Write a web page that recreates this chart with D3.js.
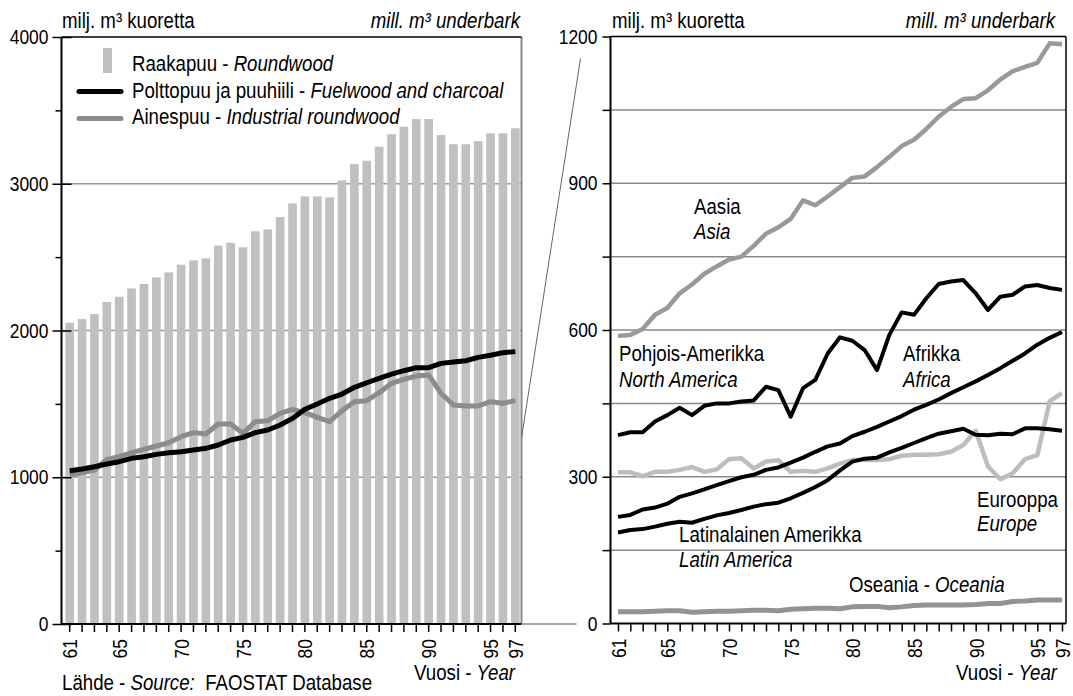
<!DOCTYPE html>
<html><head><meta charset="utf-8">
<script src="https://cdn.jsdelivr.net/npm/d3@7/dist/d3.min.js"></script>
<style>
html,body{margin:0;padding:0;background:#fff;}
svg{display:block;}
</style></head><body>
<svg id="chart" width="1073" height="696"></svg>
<script>
// ---------- DATA ----------
const years = [61,62,63,64,65,66,67,68,69,70,71,72,73,74,75,76,77,78,79,80,81,82,83,84,85,86,87,88,89,90,91,92,93,94,95,96,97];
const xTickLabels = [61,65,70,75,80,85,90,95,97];
const leftTicks = [0,500,1000,1500,2000,2500,3000,3500,4000];
const leftTickLabels = [0,1000,2000,3000,4000];
const rightTicks = [0,150,300,450,600,750,900,1050,1200];
const rightTickLabels = [0,300,600,900,1200];

const roundwood = [2053,2078,2112,2194,2230,2287,2317,2362,2396,2448,2478,2492,2578,2598,2567,2676,2689,2773,2866,2914,2914,2907,3023,3134,3157,3252,3337,3389,3441,3441,3332,3269,3269,3291,3344,3344,3378];
const fuelwood = [1045,1056,1072,1090,1106,1129,1140,1156,1167,1174,1186,1197,1220,1254,1272,1304,1322,1356,1401,1463,1499,1538,1567,1613,1644,1674,1703,1726,1747,1747,1776,1785,1794,1817,1831,1849,1856];
const industrial = [1015,1031,1049,1122,1140,1167,1190,1213,1235,1276,1304,1295,1363,1363,1299,1379,1385,1435,1463,1440,1408,1379,1454,1515,1522,1576,1640,1667,1690,1697,1572,1492,1486,1486,1515,1504,1522];

const asia = [588,590,602,631,645,675,693,715,730,744,750,772,797,810,827,865,855,873,892,911,914,933,954,976,989,1011,1036,1056,1072,1074,1090,1112,1129,1138,1146,1186,1184];
const northAmerica = [385,391,391,413,426,441,426,445,450,450,454,456,484,477,423,481,498,552,585,578,559,518,590,636,631,665,694,699,702,675,641,668,672,689,692,686,682];
const africa = [218,222,233,237,245,259,266,274,283,291,299,304,314,319,329,339,351,362,368,383,392,402,413,424,437,447,458,471,483,495,508,522,537,552,570,584,596];
const latinAmerica = [186,191,193,198,204,208,206,214,221,226,232,239,244,247,256,267,279,293,313,331,337,339,350,359,369,379,388,393,398,386,385,388,387,399,399,397,394];
const europe = [309,309,301,310,310,314,320,310,315,336,338,317,331,334,310,312,310,317,327,334,334,334,336,343,345,345,346,351,365,394,321,295,307,336,344,454,471];
const oceania = [24,24,24,25,26,26,23,24,25,25,26,27,27,26,29,30,31,31,30,34,35,35,32,34,37,38,38,38,38,39,41,41,45,46,48,48,48];

// ---------- FONT ----------
function tw(font, s){ const c=document.createElement('canvas').getContext('2d'); c.font=font; return c.measureText(s).width; }
const narrowOK = tw('20px "Liberation Sans Narrow", monospace','Polttopuu abc') !== tw('20px monospace','Polttopuu abc');
const FAM = narrowOK ? '"Liberation Sans Narrow","Arial Narrow",sans-serif' : '"Liberation Sans",Arial,sans-serif';
const SX = narrowOK ? 1 : 0.83;   // horizontal condensing when no narrow face exists
const FS = 22.5, FT = 21, FY = 21;

const svg = d3.select('#chart').style('font-family', FAM);

function label(g, x, y, parts, anchor, size){
  const t = g.append('text').attr('transform',`translate(${x},${y}) scale(${SX},1)`)
    .attr('font-size',size||FS).attr('fill','#000').attr('text-anchor',anchor||'start');
  parts.forEach(p => t.append('tspan').text(p[0]).attr('font-style', p[1] ? 'italic' : 'normal'));
  return t;
}

// ---------- LEFT CHART ----------
const L = {axisX:61.5, right:521.5, top:37, bottom:624};
const xL = d3.scaleBand().domain(years).range([63.5, 521.5]).paddingInner(0.3).paddingOuter(0.15);
const yL = d3.scaleLinear().domain([0,4000]).range([L.bottom, L.top]);
const gL = svg.append('g');

gL.selectAll('line.grid').data([1000,2000,3000]).join('line')
  .attr('x1',L.axisX).attr('x2',L.right).attr('y1',d=>yL(d)).attr('y2',d=>yL(d))
  .attr('stroke','#999').attr('stroke-width',1.5);

gL.selectAll('rect.bar').data(years.map((y,i)=>({y, v:roundwood[i]}))).join('rect')
  .attr('x',d=>xL(d.y)).attr('width',xL.bandwidth())
  .attr('y',d=>yL(d.v)).attr('height',d=>yL(0)-yL(d.v)).attr('fill','#c0c0c0');

// borders
gL.append('line').attr('x1',L.right).attr('x2',L.right).attr('y1',L.top).attr('y2',L.bottom).attr('stroke','#888').attr('stroke-width',2);
gL.append('line').attr('x1',L.axisX).attr('x2',L.right).attr('y1',L.top).attr('y2',L.top).attr('stroke','#000').attr('stroke-width',1.5);

const lineL = d3.line().x((d,i)=>xL(years[i])+xL.bandwidth()/2).y(d=>yL(d));
gL.append('path').datum(industrial).attr('d',lineL).attr('fill','none').attr('stroke','#8c8c8c').attr('stroke-width',5).attr('stroke-linejoin','round');
gL.append('path').datum(fuelwood).attr('d',lineL).attr('fill','none').attr('stroke','#000').attr('stroke-width',5).attr('stroke-linejoin','round');

function styleYText(ax){
  ax.selectAll('.tick text').attr('x',0).attr('transform',`translate(-13,0) scale(${SX},1)`)
    .attr('font-size',FT).attr('font-family',FAM).attr('fill','#000');
}
function styleXText(ax){
  ax.selectAll('.tick text').attr('x',0).attr('y',0).attr('dy','0.36em')
    .attr('transform',`rotate(-90) translate(-15,0) scale(${SX},1)`)
    .style('text-anchor','end').attr('font-size',FY).attr('font-family',FAM).attr('fill','#000');
}

// y axis
const axL = gL.append('g').attr('transform',`translate(${L.axisX},0)`)
  .call(d3.axisLeft(yL).tickValues(leftTicks).tickFormat(d=>leftTickLabels.includes(d)?d:'').tickSizeOuter(0));
axL.select('.domain').remove();
axL.selectAll('.tick line').attr('x1',d=>leftTickLabels.includes(d)?10:0).attr('x2',d=>leftTickLabels.includes(d)?-9:-6).attr('stroke','#000').attr('stroke-width',1.5);
styleYText(axL);
gL.append('line').attr('x1',L.axisX).attr('x2',L.axisX).attr('y1',L.top).attr('y2',L.bottom).attr('stroke','#000').attr('stroke-width',2);

// x axis
const axLB = gL.append('g').attr('transform',`translate(0,${L.bottom})`)
  .call(d3.axisBottom(xL).tickSize(8).tickSizeOuter(0).tickFormat(d=>xTickLabels.includes(d)?d:''));
axLB.select('.domain').remove();
axLB.selectAll('.tick line').attr('stroke','#000').attr('stroke-width',1.5);
styleXText(axLB);
gL.append('line').attr('x1',L.axisX).attr('x2',L.right).attr('y1',L.bottom).attr('y2',L.bottom).attr('stroke','#000').attr('stroke-width',2);

// legend
gL.append('rect').attr('x',103).attr('y',48).attr('width',9).attr('height',25).attr('fill','#c0c0c0');
gL.append('line').attr('x1',79).attr('x2',121).attr('y1',91.5).attr('y2',91.5).attr('stroke','#000').attr('stroke-width',5).attr('stroke-linecap','round');
gL.append('line').attr('x1',79).attr('x2',121).attr('y1',118.5).attr('y2',118.5).attr('stroke','#8c8c8c').attr('stroke-width',5).attr('stroke-linecap','round');
label(gL,132,71,[['Raakapuu - ',0],['Roundwood',1]]);
label(gL,132,98,[['Polttopuu ja puuhiili - ',0],['Fuelwood and charcoal',1]]);
label(gL,132,124,[['Ainespuu - ',0],['Industrial roundwood',1]]);

label(gL,62,28,[['milj. m³ kuoretta',0]]);
label(gL,520,28,[['mill. m³ underbark',1]],'end');
label(gL,515,680,[['Vuosi - ',0],['Year',1]],'end');
label(gL,62,690,[['Lähde - ',0],['Source:',1],['\u00a0\u00a0FAOSTAT Database',0]]);

// ---------- RIGHT CHART ----------
const R = {axisX:610.5, right:1066, top:36.5, bottom:623.5};
const xR = d3.scalePoint().domain(years).range([618, 1062]);
const yR = d3.scaleLinear().domain([0,1200]).range([R.bottom, R.top]);
const gR = svg.append('g');

gR.selectAll('line.grid').data(rightTicks.filter(d=>d>0&&d<1200)).join('line')
  .attr('x1',R.axisX).attr('x2',R.right).attr('y1',d=>yR(d)).attr('y2',d=>yR(d))
  .attr('stroke','#8a8a8a').attr('stroke-width',1.5);

const lineR = d3.line().x((d,i)=>xR(years[i])).y(d=>yR(d));
const series = [
  {v:oceania, c:'#939393', w:5},
  {v:europe, c:'#bdbdbd', w:4.5},
  {v:asia, c:'#999999', w:4.5},
  {v:latinAmerica, c:'#000', w:4},
  {v:africa, c:'#000', w:4},
  {v:northAmerica, c:'#000', w:4}
];
series.forEach(s => gR.append('path').datum(s.v).attr('d',lineR).attr('fill','none')
  .attr('stroke',s.c).attr('stroke-width',s.w).attr('stroke-linejoin','round'));

// borders
gR.append('line').attr('x1',R.axisX).attr('x2',R.right).attr('y1',R.top).attr('y2',R.top).attr('stroke','#000').attr('stroke-width',1.5);
gR.append('line').attr('x1',R.right).attr('x2',R.right).attr('y1',R.top).attr('y2',R.bottom).attr('stroke','#000').attr('stroke-width',1.5);

const axR = gR.append('g').attr('transform',`translate(${R.axisX},0)`)
  .call(d3.axisLeft(yR).tickValues(rightTicks).tickFormat(d=>rightTickLabels.includes(d)?d:'').tickSize(8).tickSizeOuter(0));
axR.select('.domain').remove();
axR.selectAll('.tick line').attr('stroke','#000').attr('stroke-width',1.5);
styleYText(axR);
gR.append('line').attr('x1',R.axisX).attr('x2',R.axisX).attr('y1',R.top).attr('y2',R.bottom).attr('stroke','#000').attr('stroke-width',2);

const axRB = gR.append('g').attr('transform',`translate(0,${R.bottom})`)
  .call(d3.axisBottom(xR).tickSize(8).tickSizeOuter(0).tickFormat(d=>xTickLabels.includes(d)?d:''));
axRB.select('.domain').remove();
axRB.selectAll('.tick line').attr('stroke','#000').attr('stroke-width',1.5);
styleXText(axRB);
gR.append('line').attr('x1',R.axisX).attr('x2',R.right).attr('y1',R.bottom).attr('y2',R.bottom).attr('stroke','#000').attr('stroke-width',2);

label(gR,612,28,[['milj. m³ kuoretta',0]]);
label(gR,1055,28,[['mill. m³ underbark',1]],'end');
label(gR,1057,680,[['Vuosi - ',0],['Year',1]],'end');

label(gR,694,214,[['Aasia',0]]);           label(gR,694,239,[['Asia',1]]);
label(gR,619,361,[['Pohjois-Amerikka',0]]); label(gR,619,387,[['North America',1]]);
label(gR,903,361,[['Afrikka',0]]);          label(gR,903,387,[['Africa',1]]);
label(gR,679,542,[['Latinalainen Amerikka',0]]); label(gR,679,567,[['Latin America',1]]);
label(gR,977,507,[['Eurooppa',0]]);         label(gR,977,531,[['Europe',1]]);
label(gR,849,592,[['Oseania - ',0],['Oceania',1]]);

// ---------- CONNECTORS ----------
svg.append('line').attr('x1',L.right).attr('x2',R.axisX-34).attr('y1',yL(0)).attr('y2',yL(0)).attr('stroke','#888').attr('stroke-width',1.5);
svg.append('line').attr('x1',R.axisX-30).attr('y1',yR(1155)).attr('x2',L.right).attr('y2',yL(1268)).attr('stroke','#666').attr('stroke-width',1);
</script>
</body></html>
